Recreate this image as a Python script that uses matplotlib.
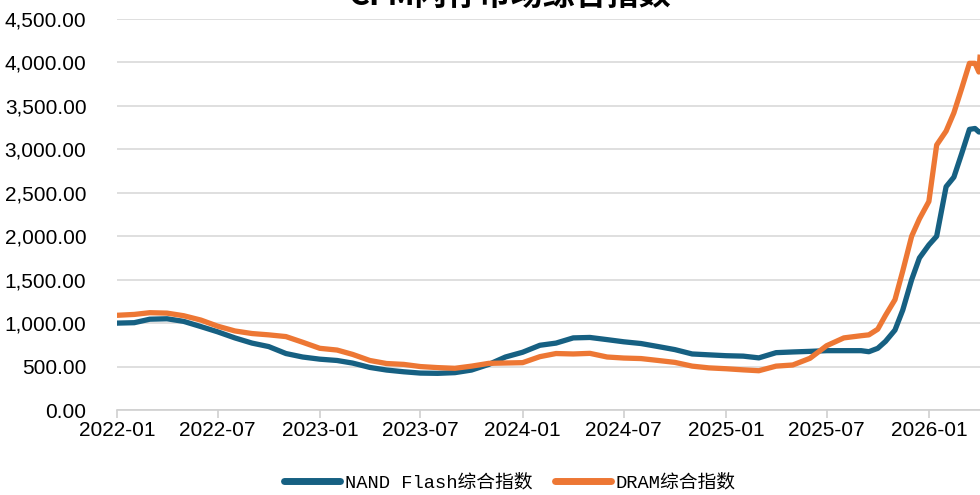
import pandas as pd
import numpy as np
import matplotlib.pyplot as plt
import matplotlib.dates as mdates
from matplotlib.ticker import FuncFormatter

plt.rcParams['font.family'] = ['Liberation Sans', 'Noto Sans CJK SC', 'DejaVu Sans']

# 日期：2022-01 至 2025-08 按月，之后按半月
dates = list(pd.date_range('2022-01-01', '2025-08-01', freq='MS').strftime('%Y-%m-%d')) + [
    '2025-09-01', '2025-09-15', '2025-10-01', '2025-10-15', '2025-11-01', '2025-11-15',
    '2025-12-01', '2025-12-15', '2026-01-01', '2026-01-15', '2026-02-01', '2026-02-15',
    '2026-03-01', '2026-03-15', '2026-03-25', '2026-04-01', '2026-04-03',
]

nand = [
    1000, 1005, 1045, 1050, 1020, 960, 900, 830, 770, 730,
    650, 610, 585, 570, 540, 490, 460, 440, 425, 422,
    430, 460, 525, 610, 665, 745, 770, 830, 835, 810,
    785, 765, 730, 695, 645, 635, 625, 620, 600, 660,
    668, 675, 683, 683,
    683, 671, 710, 790, 920, 1150, 1500, 1750, 1900, 2000,
    2570, 2680, 2950, 3230, 3240, 3200, 3200,
]

dram = [
    1090, 1100, 1120, 1115, 1085, 1035, 965, 910, 880, 865,
    845, 780, 710, 690, 640, 570, 535, 525, 500, 488,
    480, 505, 537, 541, 545, 614, 650, 645, 652, 610,
    598, 592, 570, 548, 505, 485, 475, 462, 452, 505,
    518, 595, 740, 830,
    855, 865, 930, 1090, 1270, 1600, 2000, 2200, 2400, 3050,
    3210, 3420, 3700, 3990, 3990, 3890, 4060,
]

series_names = ['NAND Flash综合指数', 'DRAM综合指数']
colors = ['#166082', '#ED7734']
tick_dates = ['2022-01-01', '2022-07-01', '2023-01-01', '2023-07-01', '2024-01-01',
              '2024-07-01', '2025-01-01', '2025-07-01', '2026-01-01']

x = pd.to_datetime(dates)

fig = plt.figure(figsize=(9.8, 4.95), dpi=100)
ax = fig.add_axes([0.1194, 0.1717, 0.8806, 0.7899])

ax.plot(x, nand, color=colors[0], lw=3.8, label=series_names[0], zorder=3)
ax.plot(x, dram, color=colors[1], lw=3.8, label=series_names[1], zorder=4)

ax.set_ylim(0, 4500)
ax.set_yticks(np.arange(0, 4501, 500))
ax.yaxis.set_major_formatter(FuncFormatter(lambda v, p: f'{v:,.2f}'))
ax.set_xlim(x[0], x[-1])
ax.set_xticks(pd.to_datetime(tick_dates))
ax.xaxis.set_major_formatter(mdates.DateFormatter('%Y-%m'))

ax.grid(axis='y', color='#d9d9d9', lw=1.2)
ax.set_axisbelow(True)
for s in ['top', 'right', 'left']:
    ax.spines[s].set_visible(False)
ax.spines['bottom'].set_color('#d0d0d0')
ax.spines['bottom'].set_linewidth(1.2)
ax.tick_params(axis='y', length=0, labelsize=15, pad=22)
ax.tick_params(axis='x', length=6, color='#d0d0d0', width=1.2, labelsize=15, pad=2)

# 标题（原图顶部被截断）
fig.text(0.52, 1 - 5 / 495, 'CFM闪存市场综合指数', ha='center', va='baseline',
         fontsize=23, fontweight='bold', family=['Noto Sans CJK SC', 'DejaVu Sans'])

leg = fig.legend(loc='center', bbox_to_anchor=(0.52, 0.025), ncol=2, frameon=False,
                 handlelength=3.0, handletextpad=0.25, columnspacing=1.2,
                 prop={'family': ['Liberation Mono', 'Noto Sans CJK SC'], 'size': 13.5})
for line in leg.get_lines():
    line.set_linewidth(5)
    line.set_solid_capstyle('round')

fig.savefig('out.png', dpi=100)
